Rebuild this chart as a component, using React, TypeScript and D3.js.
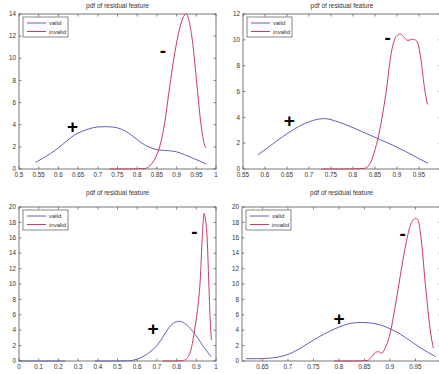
import React from "react";
import * as d3 from "d3";

const TITLE = "pdf of residual feature";
const SERIES_NAMES = ["valid", "invalid"];

// Panel 1 (top left)
const p1ValidX = [0.542, 0.56, 0.58, 0.6, 0.62, 0.64, 0.66, 0.68, 0.7, 0.72, 0.74, 0.76, 0.78, 0.8, 0.82, 0.84, 0.86, 0.88, 0.9, 0.92, 0.94, 0.96, 0.975];
const p1ValidY = [0.6, 0.95, 1.4, 1.9, 2.5, 3.05, 3.4, 3.65, 3.8, 3.82, 3.78, 3.6, 3.2, 2.65, 2.15, 1.85, 1.7, 1.65, 1.55, 1.3, 1.0, 0.7, 0.45];
const p1InvalidX = [0.73, 0.78, 0.82, 0.835, 0.85, 0.86, 0.87, 0.88, 0.89, 0.9, 0.91, 0.92, 0.925, 0.93, 0.94, 0.95, 0.96, 0.97, 0.975];
const p1InvalidY = [0, 0, 0.05, 0.4, 1.3, 2.4, 4.2, 6.8, 9.3, 11.4, 13, 13.9, 14, 13.6, 11.6, 8.2, 4.6, 2.3, 1.9];
const p1XTicks = [0.5, 0.55, 0.6, 0.65, 0.7, 0.75, 0.8, 0.85, 0.9, 0.95, 1];
const p1YTicks = [0, 2, 4, 6, 8, 10, 12, 14];

// Panel 2 (top right)
const p2ValidX = [0.584, 0.6, 0.62, 0.64, 0.66, 0.68, 0.7, 0.72, 0.735, 0.75, 0.77, 0.8, 0.83, 0.86, 0.89, 0.92, 0.95, 0.97];
const p2ValidY = [1.1, 1.5, 2.0, 2.5, 2.95, 3.35, 3.65, 3.85, 3.9, 3.82, 3.6, 3.2, 2.75, 2.3, 1.85, 1.35, 0.8, 0.45];
const p2InvalidX = [0.728, 0.78, 0.826, 0.84, 0.85, 0.857, 0.865, 0.875, 0.887, 0.898, 0.908, 0.917, 0.925, 0.935, 0.945, 0.954, 0.962, 0.969];
const p2InvalidY = [0, 0, 0.05, 0.5, 1.5, 2.4, 3.8, 5.9, 9.0, 10.25, 10.45, 10.15, 9.95, 10.05, 9.9, 8.6, 6.4, 5.0];
const p2XTicks = [0.55, 0.6, 0.65, 0.7, 0.75, 0.8, 0.85, 0.9, 0.95];
const p2YTicks = [0, 2, 4, 6, 8, 10, 12];

// Panel 3 (bottom left); null marks the break in the valid curve
const p3ValidX = [0, 0.05, 0.1, 0.15, 0.2, 0.235, 0.3, 0.385, 0.45, 0.5, 0.55, 0.58, 0.6, 0.62, 0.65, 0.68, 0.7, 0.72, 0.74, 0.76, 0.78, 0.8, 0.815, 0.83, 0.85, 0.87, 0.89, 0.91, 0.93, 0.95, 0.975];
const p3ValidY = [0, 0, 0, 0, 0, 0, null, 0, 0, 0, 0.02, 0.1, 0.25, 0.45, 0.9, 1.5, 2.0, 2.7, 3.5, 4.3, 4.85, 5.1, 5.15, 5.05, 4.7, 4.2, 3.6, 2.9, 2.1, 1.4, 0.55];
const p3InvalidX = [0.73, 0.78, 0.83, 0.85, 0.87, 0.88, 0.89, 0.9, 0.91, 0.92, 0.93, 0.94, 0.945, 0.955, 0.965, 0.972, 0.977];
const p3InvalidY = [0, 0, 0.05, 0.3, 1.2, 2.3, 3.8, 5.5, 7.5, 10.5, 16, 19.2, 18.6, 16, 9, 4.5, 2.7];
const p3XTicks = [0, 0.1, 0.2, 0.3, 0.4, 0.5, 0.6, 0.7, 0.8, 0.9, 1];
const p3YTicks = [0, 2, 4, 6, 8, 10, 12, 14, 16, 18, 20];

// Panel 4 (bottom right)
const p4ValidX = [0.618, 0.64, 0.66, 0.68, 0.7, 0.72, 0.74, 0.76, 0.78, 0.8, 0.82, 0.84, 0.86, 0.88, 0.9, 0.92, 0.94, 0.96, 0.99];
const p4ValidY = [0.3, 0.3, 0.35, 0.5, 0.85, 1.5, 2.3, 3.1, 3.8, 4.4, 4.85, 5.0, 4.95, 4.7, 4.2, 3.5, 2.6, 1.7, 0.55];
const p4InvalidX = [0.79, 0.83, 0.855, 0.865, 0.872, 0.878, 0.884, 0.89, 0.9, 0.91, 0.92, 0.93, 0.94, 0.95, 0.955, 0.96, 0.97, 0.98, 0.985];
const p4InvalidY = [0, 0, 0.05, 0.6, 1.15, 1.2, 1.0, 1.6, 3.5, 7, 11, 14.8, 17.6, 18.5, 18.3, 16.5, 9.5, 3.5, 1.7];
const p4XTicks = [0.65, 0.7, 0.75, 0.8, 0.85, 0.9, 0.95];
const p4YTicks = [0, 2, 4, 6, 8, 10, 12, 14, 16, 18, 20];

// "+" / "-" annotations: [x, y]
const plusMarks = [[0.636, 3.75], [0.655, 3.7], [0.68, 4.1], [0.8, 5.4]];
const minusMarks = [[0.865, 10.6], [0.879, 10.1], [0.89, 16.6], [0.925, 16.3]];

const BLUE = "#6062b6";
const RED = "#cc3a62";
const FONT = "'Liberation Sans', Arial, sans-serif";

type Panel = {
  box: [number, number, number, number]; // left, right, top, bottom
  xDomain: [number, number];
  yDomain: [number, number];
  xTicks: number[];
  yTicks: number[];
  valid: [number[], (number | null)[]];
  invalid: [number[], number[]];
};

const panels: Panel[] = [
  { box: [19, 216, 14, 169], xDomain: [0.5, 1], yDomain: [0, 14], xTicks: p1XTicks, yTicks: p1YTicks, valid: [p1ValidX, p1ValidY], invalid: [p1InvalidX, p1InvalidY] },
  { box: [243, 441, 14, 169], xDomain: [0.55, 1], yDomain: [0, 12], xTicks: p2XTicks, yTicks: p2YTicks, valid: [p2ValidX, p2ValidY], invalid: [p2InvalidX, p2InvalidY] },
  { box: [19, 216, 207, 361], xDomain: [0, 1], yDomain: [0, 20], xTicks: p3XTicks, yTicks: p3YTicks, valid: [p3ValidX, p3ValidY], invalid: [p3InvalidX, p3InvalidY] },
  { box: [242, 441, 207, 361], xDomain: [0.61, 1], yDomain: [0, 20], xTicks: p4XTicks, yTicks: p4YTicks, valid: [p4ValidX, p4ValidY], invalid: [p4InvalidX, p4InvalidY] },
];

const fmt = (v: number) => String(+v.toFixed(2));

function Axes({ p, i }: { p: Panel; i: number }) {
  const [l, r, t, b] = p.box;
  const x = d3.scaleLinear().domain(p.xDomain).range([l, r]);
  const y = d3.scaleLinear().domain(p.yDomain).range([b, t]);
  const line = d3
    .line<[number, number | null]>()
    .defined((d) => d[1] !== null)
    .x((d) => x(d[0]))
    .y((d) => y(d[1] as number))
    .curve(d3.curveMonotoneX);
  const validPts = p.valid[0].map((v, k) => [v, p.valid[1][k]] as [number, number | null]);
  const invalidPts = p.invalid[0].map((v, k) => [v, p.invalid[1][k]] as [number, number | null]);
  const tk = 2.5;
  const clipId = `clip${i}`;
  return (
    <g>
      <defs>
        <clipPath id={clipId}>
          <rect x={l} y={t - 1} width={r - l} height={b - t + 2} />
        </clipPath>
      </defs>
      <text x={(l + r) / 2} y={t - (i < 2 ? 6 : 12)} fontSize={6.5} textAnchor="middle" fill="#333" fontFamily={FONT}>
        {TITLE}
      </text>
      <rect x={l} y={t} width={r - l} height={b - t} fill="none" stroke="#555" strokeWidth={0.8} />
      {p.xTicks.map((v) => (
        <g key={`x${v}`}>
          <line x1={x(v)} x2={x(v)} y1={b} y2={b - tk} stroke="#555" strokeWidth={0.7} />
          <line x1={x(v)} x2={x(v)} y1={t} y2={t + tk} stroke="#555" strokeWidth={0.7} />
          <text x={x(v)} y={b + 7.5} fontSize={6.3} textAnchor="middle" fill="#333" fontFamily={FONT}>
            {fmt(v)}
          </text>
        </g>
      ))}
      {p.yTicks.map((v) => (
        <g key={`y${v}`}>
          <line x1={l} x2={l + tk} y1={y(v)} y2={y(v)} stroke="#555" strokeWidth={0.7} />
          <line x1={r} x2={r - tk} y1={y(v)} y2={y(v)} stroke="#555" strokeWidth={0.7} />
          <text x={l - 3} y={y(v) + 2.2} fontSize={6.3} textAnchor="end" fill="#333" fontFamily={FONT}>
            {fmt(v)}
          </text>
        </g>
      ))}
      <g clipPath={`url(#${clipId})`}>
        <path d={line(validPts) || ""} fill="none" stroke={BLUE} strokeWidth={1} />
        <path d={line(invalidPts) || ""} fill="none" stroke={RED} strokeWidth={1} />
      </g>
      <text x={x(plusMarks[i][0])} y={y(plusMarks[i][1]) + 6} fontSize={19} fontWeight="bold" textAnchor="middle" fill="#000" fontFamily={FONT}>
        +
      </text>
      <text x={x(minusMarks[i][0])} y={y(minusMarks[i][1]) + 5} fontSize={19} fontWeight="bold" textAnchor="middle" fill="#000" fontFamily={FONT}>
        -
      </text>
      <g transform={`translate(${l + 4},${t + 3})`}>
        <rect x={0} y={0} width={45} height={20} fill="#fff" stroke="#555" strokeWidth={0.7} />
        {SERIES_NAMES.map((name, k) => (
          <g key={name} transform={`translate(0,${6 + k * 8.5})`}>
            <line x1={4} x2={23} y1={0} y2={0} stroke={k === 0 ? BLUE : RED} strokeWidth={1} />
            <text x={26} y={2.2} fontSize={6} fill="#333" fontFamily={FONT}>
              {name}
            </text>
          </g>
        ))}
      </g>
    </g>
  );
}

export default function App() {
  return (
    <svg width={439} height={374} style={{ position: "absolute", left: 0, top: 0, background: "#fff" }}>
      <rect width={439} height={374} fill="#fff" />
      {panels.map((p, i) => (
        <Axes key={i} p={p} i={i} />
      ))}
    </svg>
  );
}
